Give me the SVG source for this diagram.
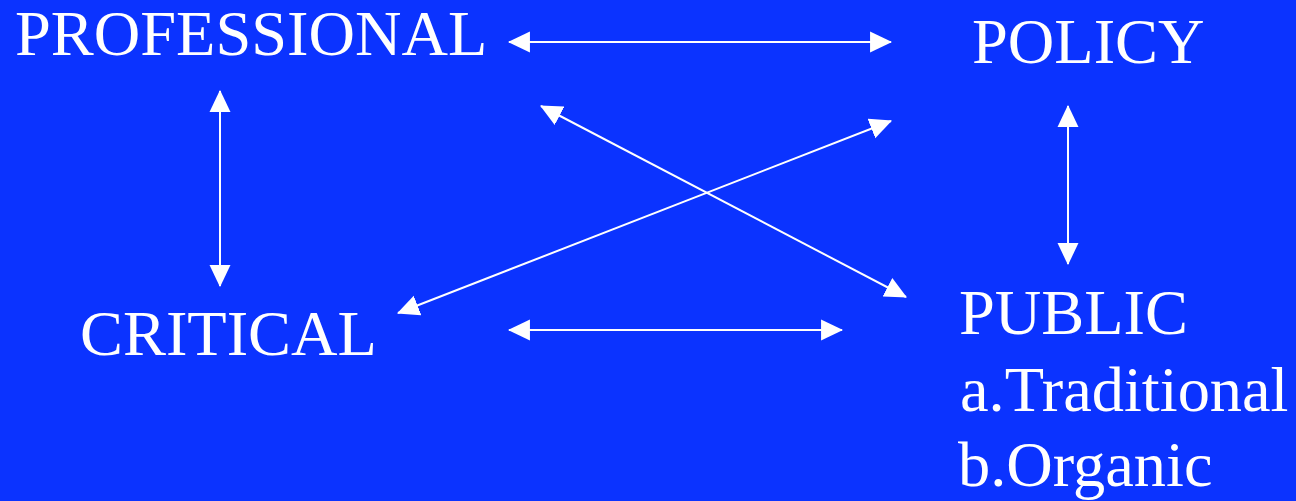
<svg xmlns="http://www.w3.org/2000/svg" width="1296" height="501" viewBox="0 0 1296 501">
<defs>
<style>
text{font-family:"Liberation Serif","Times New Roman",serif;font-size:64.4px;fill:#fff}
.c line{stroke:#fff;stroke-width:2;marker-start:url(#ah);marker-end:url(#ah)}
</style>
<marker id="ah" markerUnits="userSpaceOnUse" markerWidth="22" markerHeight="22" viewBox="0 0 21 20" refX="20" refY="10" orient="auto-start-reverse">
<polygon points="0,0 21,10 0,20" fill="#fff"/>
</marker>
</defs>
<rect width="1296" height="501" fill="#0b33ff"/>
<g id="professional"><text x="15" y="55">PROFESSIONAL</text></g>
<g id="policy"><text x="972" y="63">POLICY</text></g>
<g id="critical"><text x="80" y="355">CRITICAL</text></g>
<g id="public"><text x="959" y="334">PUBLIC</text><text x="960" y="411">a.Traditional</text><text x="958" y="486">b.Organic</text></g>
<g id="connectors" class="c">
<line x1="509" y1="42" x2="891" y2="42"/>
<line x1="509" y1="330" x2="842" y2="330"/>
<line x1="220" y1="91" x2="220" y2="286"/>
<line x1="1068" y1="106" x2="1068" y2="264"/>
<line x1="541" y1="106" x2="906" y2="297"/>
<line x1="398" y1="313" x2="891" y2="121"/>
</g>
</svg>
